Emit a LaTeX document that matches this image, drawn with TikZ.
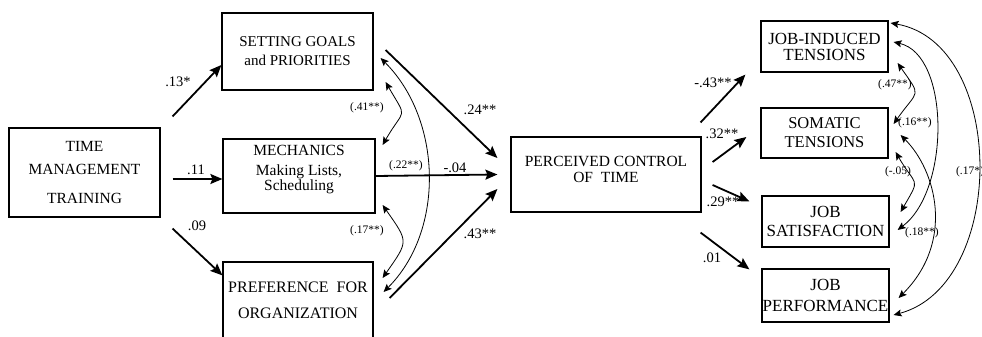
\documentclass[tikz,border=0pt]{standalone}
\usepackage{fontspec}
\setmainfont{Liberation Serif}
\usetikzlibrary{arrows.meta,positioning,calc}

\tikzset{
  box/.style={draw,line width=1.2pt,inner sep=0pt,align=center},
  boxtext/.style={inner sep=0pt,align=center},
  patharrow/.style={-{Stealth[length=12pt,width=10pt,inset=2pt]},line width=1.8pt},
  corr/.style={{Stealth[length=8pt,width=7pt,inset=1.5pt]}-{Stealth[length=8pt,width=7pt,inset=1.5pt]},line width=0.8pt},
  coef/.style={inner sep=0pt,font=\fontsize{14.5}{14.5}\selectfont},
  corrlab/.style={inner sep=0pt,font=\fontsize{11.5}{11.5}\selectfont},
}

\begin{document}
\begin{tikzpicture}[x=1pt,y=-1pt]
    \useasboundingbox (0,0) rectangle (982,337);

    % Training
    \node[box,minimum width=151,minimum height=89,font=\fontsize{15.5}{23}\selectfont] (tmt) at (84.5,172.5)
        {TIME\\MANAGEMENT\\[6pt]TRAINING};

    % Time management behaviours
    \node[box,minimum width=151,minimum height=77,font=\fontsize{15}{19}\selectfont] (goals) at (297.5,51.5)
        {SETTING GOALS\\and PRIORITIES};
    \node[box,minimum width=152,minimum height=74] (mech) at (299,176) {};
    \node[boxtext,below=6.5pt of mech.north,font=\fontsize{15.5}{11}\selectfont] (mechtext)
        {{\fontsize{15.5}{15.5}\selectfont MECHANICS}\\[9pt]Making Lists,\\Scheduling};
    \node[box,minimum width=150,minimum height=90] (pref) at (298,307) {};
    \node[boxtext,below=20pt of pref.north,font=\fontsize{16}{26}\selectfont] (preftext)
        {PREFERENCE\ \ FOR\\ORGANIZATION};

    % Mediator
    \node[box,minimum width=190,minimum height=75] (perc) at (606,174.5) {};
    \node[boxtext,below=19.5pt of perc.north,font=\fontsize{15.5}{16}\selectfont] (perctext)
        {PERCEIVED CONTROL\\OF\ \ TIME};

    % Outcomes
    \node[box,minimum width=127,minimum height=51,font=\fontsize{17}{16}\selectfont] (jit) at (824.5,46.5)
        {JOB-INDUCED\\TENSIONS};
    \node[box,minimum width=127,minimum height=50,font=\fontsize{16.5}{19}\selectfont] (som) at (824.5,133)
        {SOMATIC\\TENSIONS};
    \node[box,minimum width=127,minimum height=51,font=\fontsize{17}{19}\selectfont] (sat) at (825.5,221.5)
        {JOB\\SATISFACTION};
    \node[box,minimum width=127,minimum height=53,font=\fontsize{17}{21}\selectfont] (perf) at (825.5,295.5)
        {JOB\\PERFORMANCE};

    % Paths from training
    \draw[patharrow] ([shift={(12,-11)}]tmt.north east) -- ([shift={(0,13.5)}]goals.west);
    \draw[patharrow] ([shift={(12,6.5)}]tmt.east) -- ([shift={(0,3)}]mech.west);
    \draw[patharrow] ([shift={(12,11)}]tmt.south east) -- ([shift={(0,14)}]pref.north west);
    \node[coef] (c13) at (178,82) {.13*};
    \node[coef] (c11) at (196,170) {.11};
    \node[coef] (c09) at (197,226) {.09};

    % Paths to perceived control
    \draw[patharrow] ([shift={(12,-1.5)}]goals.east) -- ([shift={(-13,-16.5)}]perc.west);
    \draw[patharrow] (mech.east) -- ([shift={(-13,0)}]perc.west);
    \draw[patharrow] ([shift={(16,-9)}]pref.east) -- ([shift={(-13,14.5)}]perc.west);
    \node[coef] (c24) at (480,110) {.24**};
    \node[coef] (c04) at (455,168) {-.04};
    \node[coef] (c43) at (480,234) {.43**};

    % Correlations, left
    \draw[corr] ([shift={(12,30.5)}]goals.east) to[out=-60,in=60,looseness=1.8] ([shift={(7,-31)}]mech.east);
    \draw[corr] ([shift={(7,29)}]mech.east) to[out=-55,in=55,looseness=1.6] ([shift={(9,-29)}]pref.east);
    \draw[corr] ([shift={(7,6.5)}]goals.east) to[out=-45,in=45,looseness=0.95] ([shift={(10,-15)}]pref.east);
    \node[corrlab] (r41) at (367,108) {(.41**)};
    \node[corrlab] (r22) at (406,166) {(.22**)};
    \node[corrlab] (r17) at (367,231) {(.17**)};

    % Paths to outcomes
    \draw[patharrow] ([shift={(-1,-14)}]perc.north east) -- ([shift={(-15,2)}]jit.south west);
    \draw[patharrow] ([shift={(11,-12.5)}]perc.east) -- ([shift={(-14,4)}]som.west);
    \draw[patharrow] ([shift={(11,10.5)}]perc.east) -- ([shift={(-12,6)}]sat.north west);
    \draw[patharrow] ([shift={(-1,20)}]perc.south east) -- ([shift={(-12,1)}]perf.north west);
    \node[coef] (cm43) at (713,83) {-.43**};
    \node[coef] (c32) at (722,134) {.32**};
    \node[coef] (c29) at (723,202) {.29**};
    \node[coef] (c01) at (712,258) {.01};

    % Correlations, right
    \draw[corr] ([shift={(9,16.5)}]jit.east) to[out=-55,in=55,looseness=1.8] ([shift={(5,-9)}]som.east);
    \draw[corr] ([shift={(5,-4.5)}]jit.east) to[out=-13,in=37,out distance=58,in distance=66] ([shift={(8,8.5)}]sat.east);
    \draw[corr] ([shift={(7,19)}]som.east) to[out=-60,in=60,looseness=1.75] ([shift={(11,-9.5)}]sat.east);
    \draw[corr] ([shift={(12,2)}]som.east) to[out=-45,in=45,out distance=50,in distance=80] ([shift={(9,2.5)}]perf.east);
    \draw[corr] ([shift={(2,-23.5)}]jit.east) to[out=-10,in=15,out distance=118,in distance=118] ([shift={(4,19.5)}]perf.east);
    \node[corrlab] (r47) at (895,85) {(.47**)};
    \node[corrlab] (r16) at (915,123) {(.16**)};
    \node[corrlab] (r05) at (898,172) {(-.05)};
    \node[corrlab] (r18) at (922,233) {(.18**)};
    \node[corrlab] (r17b) at (970,172) {(.17*)};
\end{tikzpicture}
\end{document}
